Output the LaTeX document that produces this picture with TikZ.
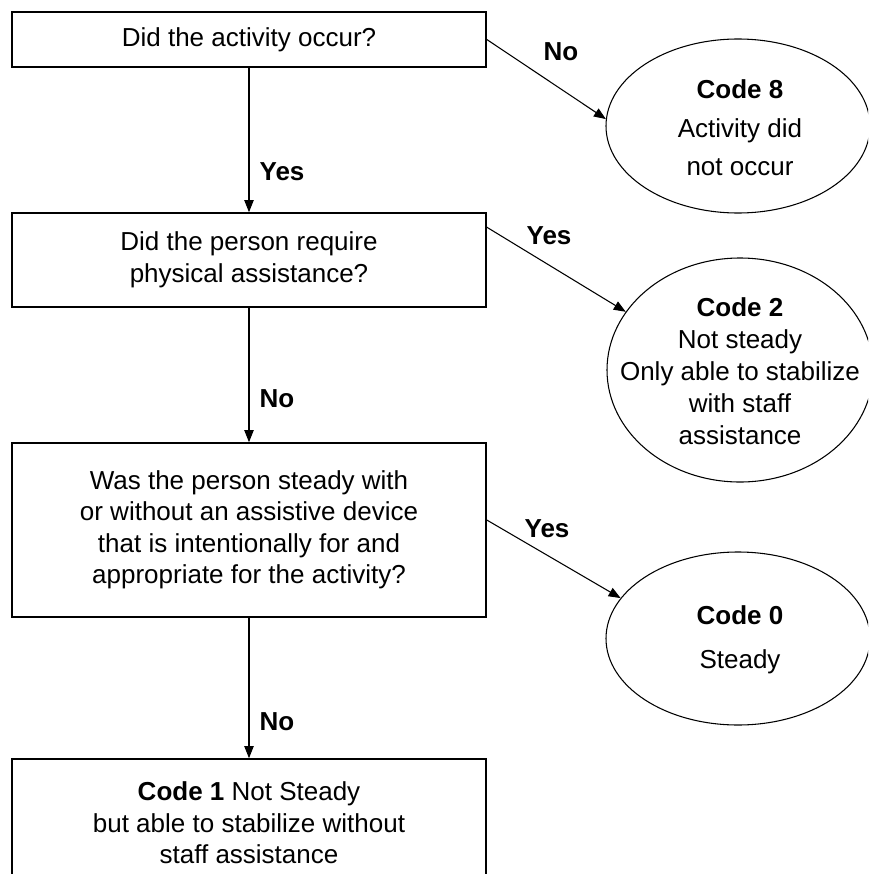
\documentclass[tikz,border=0pt]{standalone}
\usepackage{fontspec}
\setmainfont{Liberation Sans}
\usetikzlibrary{shapes.geometric,arrows.meta,calc}
\begin{document}
\begin{tikzpicture}[x=0.75pt,y=-0.75pt,
  qbox/.style={draw,line width=1.2pt,rectangle,inner sep=0pt,minimum width=355.5pt,align=center,
    font=\fontsize{19.5pt}{23.6pt}\selectfont},
  oval/.style={draw,line width=0.8pt,ellipse,inner sep=0pt},
  otext/.style={align=center,inner sep=0pt},
  lbl/.style={font=\fontsize{19.5pt}{23.6pt}\selectfont\bfseries,inner sep=0pt},
  arr/.style={line width=0.8pt,-{Triangle[length=9pt,width=7pt]}}]
\clip (0,0) rectangle (868,874);
% question boxes
\node[qbox,minimum height=41.25pt] (b1) at (249,39.5) {\raisebox{-2pt}{Did the activity occur?}};
\node[qbox,minimum height=70.5pt] (b2) at (249,260) {Did the person require\\physical assistance?};
\node[qbox,minimum height=130.5pt] (b3) at (249,530) {Was the person steady with\\or without an assistive device\\that is intentionally for and\\appropriate for the activity?};
\node[qbox,minimum height=96pt] (b4) at (249,823) {\textbf{Code 1} Not Steady\\but able to stabilize without\\staff assistance};
% outcome ellipses
\node[oval,minimum width=198pt,minimum height=130.5pt] (e1) at (738,126) {};
\node[otext,font=\fontsize{19.5pt}{28.9pt}\selectfont] (t1) at (740,128) {\textbf{Code 8}\\Activity did\\not occur};
\node[oval,minimum width=199.5pt,minimum height=168pt] (e2) at (740,370) {};
\node[otext,font=\fontsize{19.5pt}{24pt}\selectfont] (t2) at (740,371) {\textbf{Code 2}\\Not steady\\Only able to stabilize\\with staff\\assistance};
\node[oval,minimum width=198pt,minimum height=129.75pt] (e3) at (738,638.5) {};
\node[otext,font=\fontsize{19.5pt}{33pt}\selectfont] (t3) at (740,640) {\textbf{Code 0}\\Steady};
% connectors
\draw[arr] (b1.south) -- (b2.north);
\draw[arr] (b2.south) -- (b3.north);
\draw[arr] (b3.south) -- (b4.north);
\draw[arr] (b1.east) -- (e1.177);
\draw[arr] ([yshift=-11.25pt]b2.north east) -- (e2.153);
\draw[arr] ([yshift=7.5pt]b3.east) -- (e3.161);
% labels
\node[lbl] (l1) at (282,172) {Yes};
\node[lbl] (l2) at (561,52) {No};
\node[lbl] (l3) at (549,236) {Yes};
\node[lbl] (l4) at (277,399) {No};
\node[lbl] (l5) at (547,529) {Yes};
\node[lbl] (l6) at (277,722) {No};
\end{tikzpicture}
\end{document}
